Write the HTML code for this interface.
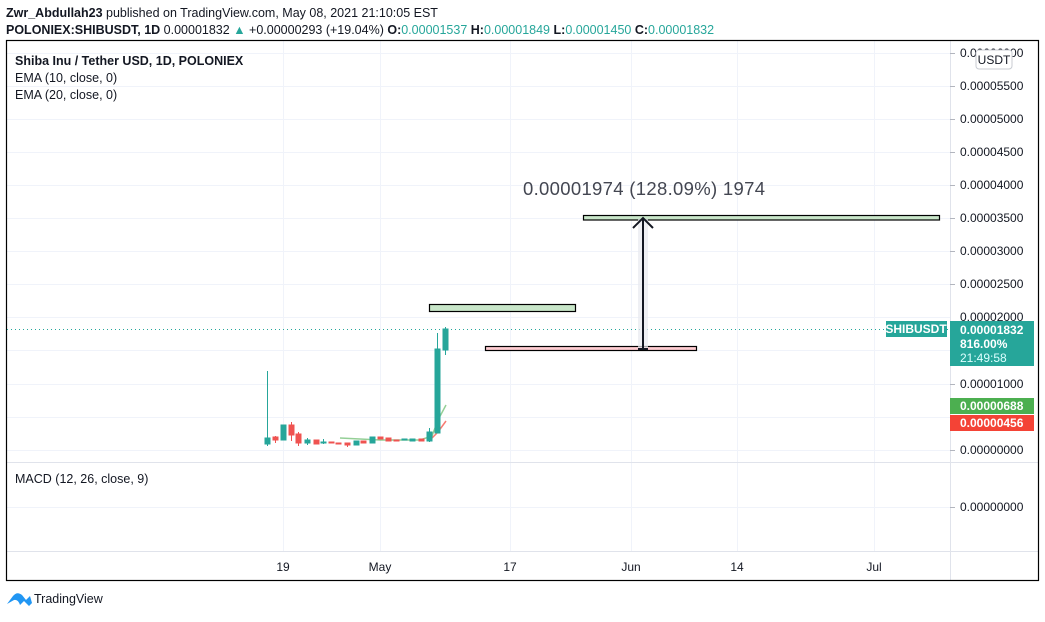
<!DOCTYPE html>
<html><head><meta charset="utf-8"><style>
body{margin:0;background:#fff;width:1045px;height:617px;overflow:hidden;font-family:"Liberation Sans",sans-serif}
</style></head><body>
<svg width="1045" height="617" xmlns="http://www.w3.org/2000/svg" font-family="Liberation Sans, sans-serif">
<text x="6" y="17" font-size="12.5" fill="#131722"><tspan font-weight="bold">Zwr_Abdullah23</tspan> published on TradingView.com, May 08, 2021 21:10:05 EST</text>
<text x="6" y="34" font-size="12.5" fill="#131722"><tspan font-weight="bold">POLONIEX:SHIBUSDT, 1D</tspan> 0.00001832 <tspan fill="#26a69a">▲</tspan> +0.00000293 (+19.04%) <tspan font-weight="bold">O:</tspan><tspan fill="#26a69a">0.00001537</tspan> <tspan font-weight="bold">H:</tspan><tspan fill="#26a69a">0.00001849</tspan> <tspan font-weight="bold">L:</tspan><tspan fill="#26a69a">0.00001450</tspan> <tspan font-weight="bold">C:</tspan><tspan fill="#26a69a">0.00001832</tspan></text>
<g stroke="#f0f3fa" stroke-width="1">
<line x1="283.5" y1="41" x2="283.5" y2="552"/><line x1="380.5" y1="41" x2="380.5" y2="552"/><line x1="510.5" y1="41" x2="510.5" y2="552"/><line x1="631.5" y1="41" x2="631.5" y2="552"/><line x1="737.5" y1="41" x2="737.5" y2="552"/><line x1="874.5" y1="41" x2="874.5" y2="552"/>
<line x1="7" y1="53.5" x2="950" y2="53.5"/><line x1="7" y1="86.5" x2="950" y2="86.5"/><line x1="7" y1="119.5" x2="950" y2="119.5"/><line x1="7" y1="152.5" x2="950" y2="152.5"/><line x1="7" y1="185.5" x2="950" y2="185.5"/><line x1="7" y1="218.5" x2="950" y2="218.5"/><line x1="7" y1="251.5" x2="950" y2="251.5"/><line x1="7" y1="284.5" x2="950" y2="284.5"/><line x1="7" y1="317.5" x2="950" y2="317.5"/><line x1="7" y1="350.5" x2="950" y2="350.5"/><line x1="7" y1="384.5" x2="950" y2="384.5"/><line x1="7" y1="417.5" x2="950" y2="417.5"/><line x1="7" y1="450.5" x2="950" y2="450.5"/><line x1="7" y1="507.5" x2="950" y2="507.5"/>
</g>
<g stroke="#e0e3eb"><line x1="950.5" y1="41" x2="950.5" y2="580"/><line x1="7" y1="462.5" x2="1038" y2="462.5"/><line x1="7" y1="551.5" x2="1038" y2="551.5"/></g>
<rect x="6.5" y="40.5" width="1032" height="540" fill="none" stroke="#000" stroke-width="1.2"/>
<text x="15" y="65" font-size="12.5" font-weight="bold" fill="#131722">Shiba Inu / Tether USD, 1D, POLONIEX</text>
<text x="15" y="82" font-size="12.5" fill="#131722">EMA (10, close, 0)</text>
<text x="15" y="99" font-size="12.5" fill="#131722">EMA (20, close, 0)</text>
<text x="15" y="483" font-size="12.5" fill="#131722">MACD (12, 26, close, 9)</text>
<g font-size="12" fill="#131722">
<text x="960" y="57">0.00006000</text><text x="960" y="90">0.00005500</text><text x="960" y="123">0.00005000</text><text x="960" y="156">0.00004500</text><text x="960" y="189">0.00004000</text><text x="960" y="222">0.00003500</text><text x="960" y="255">0.00003000</text><text x="960" y="288">0.00002500</text><text x="960" y="321">0.00002000</text><text x="960" y="388">0.00001000</text><text x="960" y="454">0.00000000</text><text x="960" y="511">0.00000000</text>
</g>
<g stroke="#b2b5be"><line x1="950" y1="53.5" x2="955" y2="53.5"/><line x1="950" y1="86.5" x2="955" y2="86.5"/><line x1="950" y1="119.5" x2="955" y2="119.5"/><line x1="950" y1="152.5" x2="955" y2="152.5"/><line x1="950" y1="185.5" x2="955" y2="185.5"/><line x1="950" y1="218.5" x2="955" y2="218.5"/><line x1="950" y1="251.5" x2="955" y2="251.5"/><line x1="950" y1="284.5" x2="955" y2="284.5"/><line x1="950" y1="384.5" x2="955" y2="384.5"/><line x1="950" y1="450.5" x2="955" y2="450.5"/><line x1="950" y1="507.5" x2="955" y2="507.5"/></g>
<rect x="976" y="50" width="36" height="19" rx="3" fill="#fff" stroke="#c8cbd2"/>
<text x="994" y="64" font-size="12" fill="#131722" text-anchor="middle">USDT</text>
<g font-size="12" fill="#131722" text-anchor="middle"><text x="283" y="571">19</text><text x="380" y="571">May</text><text x="510" y="571">17</text><text x="631" y="571">Jun</text><text x="737" y="571">14</text><text x="874" y="571">Jul</text></g>
<line x1="7" y1="329.5" x2="950" y2="329.5" stroke="#26a69a" stroke-dasharray="1,3"/>
<rect x="886" y="321" width="61" height="16" fill="#26a69a"/><text x="916" y="333" font-size="12" font-weight="bold" fill="#fff" text-anchor="middle">SHIBUSDT</text>
<rect x="950" y="321" width="84" height="45" fill="#26a69a"/>
<text x="960" y="334" font-size="12" font-weight="bold" fill="#fff">0.00001832</text>
<text x="960" y="348" font-size="12" font-weight="bold" fill="#fff">816.00%</text>
<text x="960" y="362" font-size="12" fill="#dff">21:49:58</text>
<rect x="950" y="398" width="84" height="16" fill="#4caf50"/><text x="960" y="410" font-size="12" font-weight="bold" fill="#fff">0.00000688</text>
<rect x="950" y="415" width="84" height="16" fill="#f44336"/><text x="960" y="427" font-size="12" font-weight="bold" fill="#fff">0.00000456</text>
<polyline points="340,438 380,440 420,440 432,436 438,420 446,405" fill="none" stroke="#4caf50" stroke-opacity="0.6" stroke-width="1.5"/>
<polyline points="430,440 438,432 446,421" fill="none" stroke="#f44336" stroke-opacity="0.7" stroke-width="1.5"/>
<g stroke-width="1">
<g fill="#26a69a" stroke="#26a69a"><line x1="267.5" y1="371" x2="267.5" y2="446"/><rect x="265" y="438" width="5" height="6"/>
<rect x="281" y="425" width="5" height="15"/><line x1="307.5" y1="438" x2="307.5" y2="445"/><rect x="305" y="440" width="5" height="3"/>
<line x1="323.5" y1="439" x2="323.5" y2="444"/><rect x="321" y="442" width="5" height="1"/><rect x="354" y="441" width="5" height="4"/>
<rect x="370" y="437" width="5" height="6"/><rect x="402" y="439" width="5" height="1"/><rect x="410" y="439" width="5" height="2"/>
<line x1="429.5" y1="428" x2="429.5" y2="442"/><rect x="427" y="432" width="5" height="9"/>
<line x1="437.5" y1="333" x2="437.5" y2="433"/><rect x="435" y="349" width="5" height="84"/>
<line x1="445.5" y1="327" x2="445.5" y2="355"/><rect x="443" y="329" width="5" height="21"/></g>
<g fill="#ef5350" stroke="#ef5350"><line x1="275.5" y1="436" x2="275.5" y2="443"/><rect x="273" y="437" width="5" height="3"/>
<line x1="291.5" y1="422" x2="291.5" y2="441"/><rect x="289" y="425" width="5" height="10"/>
<line x1="298.5" y1="432" x2="298.5" y2="446"/><rect x="296" y="434" width="5" height="9"/>
<rect x="314" y="440" width="5" height="4"/><rect x="329" y="442" width="5" height="1"/><rect x="336" y="443" width="5" height="1"/>
<line x1="347.5" y1="443" x2="347.5" y2="447"/><rect x="345" y="443" width="5" height="2"/><rect x="361" y="441" width="5" height="2"/>
<rect x="378" y="437" width="5" height="2"/><rect x="386" y="438" width="5" height="3"/><rect x="394" y="440" width="5" height="1"/><rect x="419" y="439" width="5" height="2"/></g>
</g>
<rect x="429.5" y="304.5" width="146" height="7" fill="#c8e6c9" stroke="#000" stroke-width="1.2"/>
<rect x="485.5" y="346.5" width="211" height="4" fill="#ffcdd2" stroke="#000" stroke-width="1.2"/>
<rect x="583.5" y="215.5" width="356" height="4.5" fill="#c8e6c9" stroke="#000" stroke-width="1.2"/>
<rect x="638" y="219" width="10" height="130" fill="#e8e9ef" opacity="0.7"/>
<line x1="643" y1="219" x2="643" y2="349" stroke="#131722" stroke-width="2"/>
<polyline points="633,228 643,218 653,228" fill="none" stroke="#131722" stroke-width="2"/>
<line x1="638" y1="349" x2="648" y2="349" stroke="#131722" stroke-width="2"/>
<text x="644" y="195" font-size="18.5" fill="#434651" text-anchor="middle" textLength="242">0.00001974 (128.09%) 1974</text>
<path d="M7,604 L13,596 Q17,591 22,595 L26,600 L30,596 L32,603 L29,606 L24,601 L20,605 Q18,599 14,600 Z" fill="#2196f3"/>
<text x="34" y="603" font-size="12.5" fill="#131722">TradingView</text>
</svg>
</body></html>
